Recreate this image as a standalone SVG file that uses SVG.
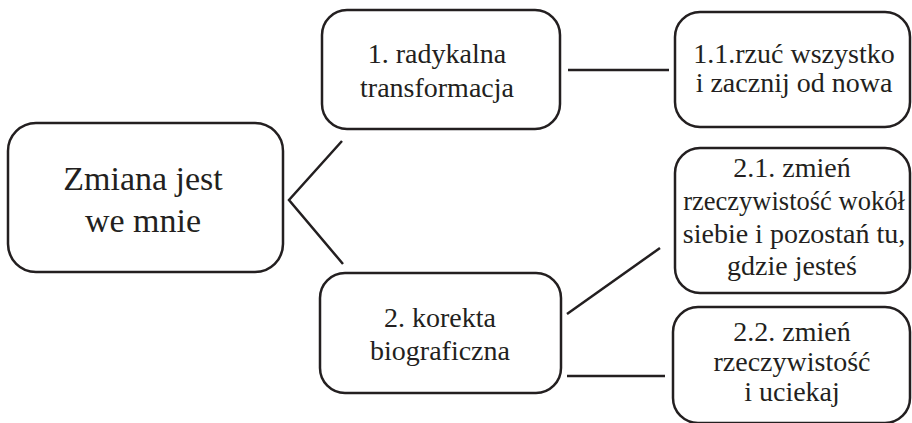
<svg xmlns="http://www.w3.org/2000/svg" width="912" height="423" viewBox="0 0 912 423">
<style>
.box{fill:#fff;stroke:#231f20;stroke-width:2.5}
.con line,.con polyline{fill:none;stroke:#231f20;stroke-width:2.5}
text{fill:#231f20;text-anchor:middle;font-family:"Liberation Serif","DejaVu Serif","Noto Serif",serif}
.t{font-size:28px}
.m{font-size:34px}
</style>
<rect width="912" height="423" fill="#fff"/>
<g id="connectors" class="con">
<polyline points="342,141 289,200 343,264"/>
<line x1="568" y1="70" x2="669" y2="70"/>
<line x1="567" y1="314" x2="660" y2="248"/>
<line x1="567" y1="376" x2="665" y2="376"/>
</g>
<g id="main">
<rect class="box" x="8" y="123" width="275" height="149" rx="28"/>
<text class="m" x="143" y="190">Zmiana jest</text>
<text class="m" x="143" y="232">we mnie</text>
</g>
<g id="n1">
<rect class="box" x="322" y="10" width="238" height="119" rx="25"/>
<text class="t" x="437" y="63">1. radykalna</text>
<text class="t" x="437" y="97">transformacja</text>
</g>
<g id="n11">
<rect class="box" x="675" y="12" width="235" height="115" rx="25"/>
<text class="t" x="794" y="63">1.1.rzuć wszystko</text>
<text class="t" x="794" y="92">i zacznij od nowa</text>
</g>
<g id="n2">
<rect class="box" x="320" y="273" width="241" height="120" rx="25"/>
<text class="t" x="440" y="327">2. korekta</text>
<text class="t" x="440" y="360">biograficzna</text>
</g>
<g id="n21">
<rect class="box" x="675" y="148" width="235" height="145" rx="25"/>
<text class="t" x="792" y="177">2.1. zmień</text>
<text class="t" x="794" y="210" font-size="26.5px" style="font-size:26.5px">rzeczywistość wokół</text>
<text class="t" x="794" y="243">siebie i pozostań tu,</text>
<text class="t" x="792" y="275">gdzie jesteś</text>
</g>
<g id="n22">
<rect class="box" x="673" y="307" width="237" height="116" rx="25"/>
<text class="t" x="792" y="341">2.2. zmień</text>
<text class="t" x="792" y="371">rzeczywistość</text>
<text class="t" x="792" y="401">i uciekaj</text>
</g>
</svg>
